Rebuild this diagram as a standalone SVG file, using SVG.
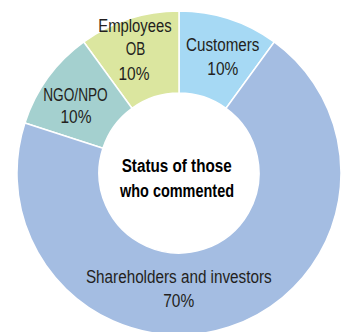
<svg xmlns="http://www.w3.org/2000/svg" width="341" height="332" viewBox="0 0 341 332">
<style>
.slice{stroke:#ffffff;stroke-width:1.5;stroke-linejoin:miter}
.lbl{font-family:"Liberation Sans","Arial",sans-serif;font-size:17.5px;fill:#231f20;text-anchor:middle}
.ctr{font-family:"Liberation Sans","Arial",sans-serif;font-size:18px;font-weight:bold;fill:#000000;text-anchor:middle}
</style>
<rect width="341" height="332" fill="#ffffff"/>
<g id="chart">
<g id="customers">
<path class="slice" fill="#a6d9f4" d="M179,11 A162,162 0 0 1 274.22,41.94 L226.02,108.28 A80,80 0 0 0 179,93 Z"/>
<text class="lbl" x="222.7" y="50.5" textLength="73.3" lengthAdjust="spacingAndGlyphs">Customers</text>
<text class="lbl" x="222.8" y="74.8" textLength="31" lengthAdjust="spacingAndGlyphs">10%</text>
</g>
<g id="employees">
<path class="slice" fill="#dbe69f" d="M83.78,41.94 A162,162 0 0 1 179,11 L179,93 A80,80 0 0 0 131.98,108.28 Z"/>
<text class="lbl" x="135" y="31.7" textLength="73.4" lengthAdjust="spacingAndGlyphs">Employees</text>
<text class="lbl" x="135.5" y="55.3" textLength="19.5" lengthAdjust="spacingAndGlyphs">OB</text>
<text class="lbl" x="134" y="79.7" textLength="31" lengthAdjust="spacingAndGlyphs">10%</text>
</g>
<g id="ngo">
<path class="slice" fill="#a4d0cf" d="M24.92,122.94 A162,162 0 0 1 83.78,41.94 L131.98,108.28 A80,80 0 0 0 102.91,148.28 Z"/>
<text class="lbl" x="75.5" y="100.6" textLength="64.5" lengthAdjust="spacingAndGlyphs">NGO/NPO</text>
<text class="lbl" x="76" y="122.8" textLength="31" lengthAdjust="spacingAndGlyphs">10%</text>
</g>
<g id="shareholders">
<path class="slice" fill="#a4bde2" d="M274.22,41.94 A162,162 0 1 1 24.92,122.94 L102.91,148.28 A80,80 0 1 0 226.02,108.28 Z"/>
<text class="lbl" x="178.8" y="283.3" textLength="185.7" lengthAdjust="spacingAndGlyphs">Shareholders and investors</text>
<text class="lbl" x="178.7" y="307.2" textLength="31" lengthAdjust="spacingAndGlyphs">70%</text>
</g>
<g id="center">
<circle cx="179" cy="173" r="79.3" fill="#ffffff"/>
<text class="ctr" x="176.7" y="171.5" textLength="110" lengthAdjust="spacingAndGlyphs">Status of those</text>
<text class="ctr" x="177" y="196.5" textLength="114" lengthAdjust="spacingAndGlyphs">who commented</text>
</g>
</g>
<g id="connectors"/>
</svg>
